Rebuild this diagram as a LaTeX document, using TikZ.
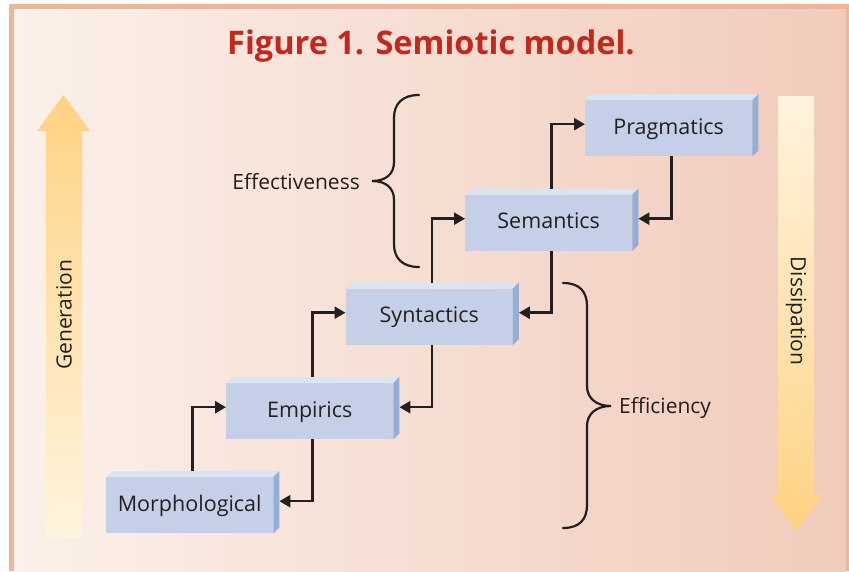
\documentclass[tikz,border=0pt]{standalone}
\usepackage{fontspec}
\setmainfont{Open Sans}
\newfontfamily\titlefont{Open Sans}
\usetikzlibrary{arrows.meta,calc}
\definecolor{frame}{HTML}{EBB69C}
\definecolor{bgL}{HTML}{FBF0EA}
\definecolor{bgR}{HTML}{F1CBBB}
\definecolor{titlered}{HTML}{C4281C}
\definecolor{ink}{HTML}{231F20}
\definecolor{boxfront}{HTML}{C5D0E8}
\definecolor{boxtop}{HTML}{DCE3F1}
\definecolor{boxside}{HTML}{93AED7}
\definecolor{arrDark}{HTML}{FFD283}
\definecolor{arrLight}{HTML}{FFF4DF}
\tikzset{
  level/.style={fill=boxfront, draw=none, minimum width=167pt, minimum height=56pt,
    inner sep=0pt, text=ink, font=\fontsize{21.5}{21.5}\selectfont,
    text height=17pt, text depth=5pt},
  conn/.style={line width=2.5pt, draw=ink, line join=miter,
    -{Triangle[length=11pt,width=12pt]}},
  bracepath/.style={line width=2.2pt, draw=ink, line cap=round},
  lbl/.style={text=ink, font=\fontsize{21}{21}\selectfont, inner sep=0pt},
}
\newcommand\boxfaces[1]{%
  \fill[boxtop] (#1.north west) -- ([xshift=6pt,yshift=6pt]#1.north west)
     -- ([xshift=6pt,yshift=6pt]#1.north east) -- (#1.north east) -- cycle;
  \fill[boxside] (#1.north east) -- ([xshift=6pt,yshift=6pt]#1.north east)
     -- ([xshift=6pt,yshift=6pt]#1.south east) -- (#1.south east) -- cycle;}
\begin{document}
\begin{tikzpicture}[x=1pt,y=-1pt]
\useasboundingbox (0,0) rectangle (849,571);
\fill[white] (0,0) rectangle (849,571);
\fill[frame] (9,4) rectangle (849,571);
\shade[left color=bgL,right color=bgR] (14,9) rectangle (846,571);
% title
\node[font=\titlefont\bfseries\fontsize{32.5}{32.5}\selectfont, text=titlered, inner sep=0pt] (title) at (431,46) {Figure 1. Semiotic model.};
% big arrows
\shade[top color=arrDark, bottom color=arrLight] (46,538) -- (46,131) -- (37,131) -- (63.5,95) -- (90,131) -- (82,131) -- (82,538) -- cycle;
\node[lbl, rotate=90] (gen) at (64,315) {Generation};
\shade[top color=arrLight, bottom color=arrDark] (778,96) -- (814,96) -- (814,495) -- (823,495) -- (796.5,531) -- (770,495) -- (778,495) -- cycle;
\node[lbl, rotate=-90] (dis) at (796,311) {Dissipation};
% boxes
\node[level, anchor=north west] (morph) at (106,477) {Morphological};
\node[level, anchor=north west] (emp) at (226,383) {Empirics};
\node[level, anchor=north west] (syn) at (345.5,288.5) {Syntactics};
\node[level, anchor=north west] (sem) at (465,194.5) {Semantics};
\node[level, anchor=north west] (prag) at (585,100) {Pragmatics};
\boxfaces{morph}\boxfaces{emp}\boxfaces{syn}\boxfaces{sem}\boxfaces{prag}
% connectors
\draw[conn] ([xshift=86.5pt,yshift=6pt]morph.north west) |- ([yshift=4pt]emp.west);
\draw[conn] ([xshift=86.5pt]emp.south west) |- ([xshift=6pt,yshift=4pt]morph.east);
\draw[conn] ([xshift=86.5pt,yshift=6pt]emp.north west) |- ([yshift=4pt]syn.west);
\draw[conn] ([xshift=86.5pt]syn.south west) |- ([xshift=6pt,yshift=4pt]emp.east);
\draw[conn] ([xshift=86.5pt,yshift=6pt]syn.north west) |- ([yshift=4pt]sem.west);
\draw[conn] ([xshift=86.5pt]sem.south west) |- ([xshift=6pt,yshift=4pt]syn.east);
\draw[conn] ([xshift=86.5pt,yshift=6pt]sem.north west) |- ([yshift=4pt]prag.west);
\draw[conn] ([xshift=86.5pt]prag.south west) |- ([xshift=6pt,yshift=4pt]sem.east);
% braces
\draw[bracepath] (419,95) .. controls (402,95) and (394,104) .. (394,118) -- (394,162)
  .. controls (394,174) and (386,181) .. (372,181)
  .. controls (386,181) and (394,188) .. (394,200) -- (394,244)
  .. controls (394,258) and (402,267) .. (419,267);
\node[lbl, anchor=east] (eff) at (360,182) {Effectiveness};
\draw[bracepath] (563,283) .. controls (580,283) and (587,292) .. (587,306) -- (587,386)
  .. controls (587,398) and (596,406) .. (611,406)
  .. controls (596,406) and (587,414) .. (587,426) -- (587,505)
  .. controls (587,519) and (580,528) .. (563,528);
\node[lbl, anchor=west] (effic) at (619,408) {Efficiency};
\end{tikzpicture}
\end{document}
